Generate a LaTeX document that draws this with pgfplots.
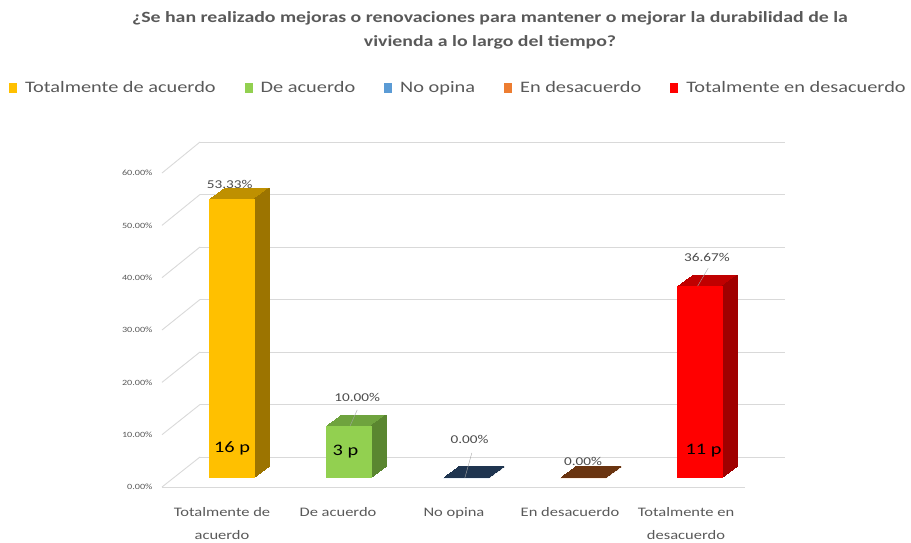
\documentclass[border=0pt]{standalone}
\usepackage{fontspec}
\setmainfont{Carlito}[FakeStretch=1.27]
\usepackage{pgfplots}
\pgfplotsset{compat=1.18}

\definecolor{cYel}{HTML}{FFC000}
\definecolor{cYelT}{HTML}{BF9000}
\definecolor{cYelS}{HTML}{9C7400}
\definecolor{cGrn}{HTML}{92D050}
\definecolor{cGrnT}{HTML}{6FA33E}
\definecolor{cGrnS}{HTML}{5A8630}
\definecolor{cBlu}{HTML}{5B9BD5}
\definecolor{cBluT}{HTML}{1F3550}
\definecolor{cOrg}{HTML}{ED7D31}
\definecolor{cOrgT}{HTML}{6A3410}
\definecolor{cRed}{HTML}{FF0000}
\definecolor{cRedT}{HTML}{C00000}
\definecolor{cRedS}{HTML}{A00000}
\definecolor{txt}{HTML}{595959}
\definecolor{gridc}{HTML}{D9D9D9}

\pgfplotsset{
  barbase/.style={
    scale only axis, width=585pt, height=314pt,
    xmin=-0.5, xmax=4.5, ymin=0, ymax=60,
    hide axis, clip=false,
    ybar, bar width=46pt, bar shift=0pt,
  },
}

\begin{document}
\begin{tikzpicture}[x=1pt,y=1pt]
\useasboundingbox (0,0) rectangle (911,542);

% back wall grid
\begin{axis}[at={(200pt,85pt)}, anchor=south west,
  scale only axis, width=585pt, height=315pt,
  xmin=0, xmax=1, ymin=0, ymax=60, ytick={0,10,...,60},
  xtick=\empty, yticklabels={}, major tick length=0pt,
  axis line style={draw=none}, ymajorgrids,
  grid style={gridc, line width=0.9pt}]
\addplot[draw=none] coordinates {(0,0)};
\end{axis}
% side walls of the grid and front floor edge
\foreach \k in {0,...,6}
  \draw[gridc, line width=0.9pt] (162,55+52.33*\k) -- (200,85+52.5*\k);
\draw[gridc, line width=0.9pt] (162,55) -- (745,55);

% front plane: tick labels
\begin{axis}[at={(164pt,55pt)}, anchor=south west,
  scale only axis, width=580pt, height=314pt,
  xmin=-0.5, xmax=4.5, ymin=0, ymax=60,
  ytick={0,10,...,60},
  yticklabels={0.00\%,10.00\%,20.00\%,30.00\%,40.00\%,50.00\%,60.00\%},
  xtick={0,...,4},
  xticklabels={Totalmente de\\acuerdo, De acuerdo, No opina, En desacuerdo, Totalmente en\\desacuerdo},
  axis line style={draw=none}, major tick length=0pt,
  yticklabel style={font=\fontsize{8}{9}\selectfont, text=txt, xshift=-8pt},
  xticklabel style={font=\fontsize{13}{23}\selectfont, text=txt, align=center, yshift=-17pt}]
\addplot[draw=none] coordinates {(0,0)};
\end{axis}

% depth of the boxes: top faces, built up layer by layer from back to front
\foreach \i in {15,14,...,1}{
\begin{axis}[barbase, at={({(173.5+\i)*1pt},{(64+0.733*\i)*1pt})}, anchor=south west]
\addplot[fill=cYelT, draw=none] coordinates {(0,53.33)};
\addplot[fill=cGrnT, draw=none] coordinates {(1,10.00)};
\addplot[fill=cBluT, draw=cBluT, line width=1.2pt] coordinates {(2,0.00)};
\addplot[fill=cOrgT, draw=cOrgT, line width=1.2pt] coordinates {(3,0.00)};
\addplot[fill=cRedT, draw=none] coordinates {(4,36.67)};
\end{axis}
}
% side faces: a thin strip at the right edge of each layer
\foreach \i in {15,14,...,1}{
\begin{axis}[barbase, at={({(173.5+\i)*1pt},{(64+0.733*\i)*1pt})}, anchor=south west,
  bar width=1.6pt, bar shift=22.2pt]
\addplot[fill=cYelS, draw=none] coordinates {(0,53.33)};
\addplot[fill=cGrnS, draw=none] coordinates {(1,10.00)};
\addplot[fill=cRedS, draw=none] coordinates {(4,36.67)};
\end{axis}
}

% front faces of the boxes
\begin{axis}[barbase, at={(173.5pt,64pt)}, anchor=south west,
  legend columns=5,
  legend style={at={(0.487,1.242)}, anchor=center, draw=none, fill=none,
    font=\fontsize{16}{20}\selectfont, text=txt,
    /tikz/every even column/.append style={column sep=27pt}},
  legend image code/.code={\fill[#1] (0pt,-4.5pt) rectangle (8pt,5.5pt); \path (14pt,0pt);}]
\addplot[fill=cYel, draw=none] coordinates {(0,53.33)};
\addplot[fill=cGrn, draw=none] coordinates {(1,10.00)};
\addplot[fill=cBlu, draw=none, forget plot] coordinates {(2,0.00)};
\addlegendimage{fill=cBlu, draw=none}
\addplot[fill=cOrg, draw=none, forget plot] coordinates {(3,0.00)};
\addlegendimage{fill=cOrg, draw=none}
\addplot[fill=cRed, draw=none] coordinates {(4,36.67)};
\legend{Totalmente de acuerdo, De acuerdo, No opina, En desacuerdo, Totalmente en desacuerdo}

\begin{scope}[every node/.style={font=\fontsize{12}{14}\selectfont, text=txt!85!black}]
\node at (axis cs:-0.02,56.0) {53.33\%};
\node at (axis cs:1.07,15.3) {10.00\%};
\node at (axis cs:2.03,7.3) {0.00\%};
\node at (axis cs:3.0,3.1) {0.00\%};
\node at (axis cs:4.06,42.2) {36.67\%};
\end{scope}
\draw[gray!70] (axis cs:1.07,13.0) -- (axis cs:1.01,10.0);
\draw[gray!70] (axis cs:2.05,4.8) -- (axis cs:1.99,0.0);
\draw[gray!70] (axis cs:4.07,40.1) -- (axis cs:3.98,36.67);
\begin{scope}[every node/.style={font=\fontsize{16}{18}\selectfont, text=black}]
\node at (axis cs:0,5.7) {16 p};
\node at (axis cs:0.97,5.0) {3 p};
\node at (axis cs:4.03,5.3) {11 p};
\end{scope}
\end{axis}

\node[font=\bfseries\fontsize{15.6}{24}\selectfont, text=txt, align=center] at (490,512)
  {¿Se han realizado mejoras o renovaciones para mantener o mejorar la durabilidad de la\\vivienda a lo largo del tiempo?};
\end{tikzpicture}
\end{document}
